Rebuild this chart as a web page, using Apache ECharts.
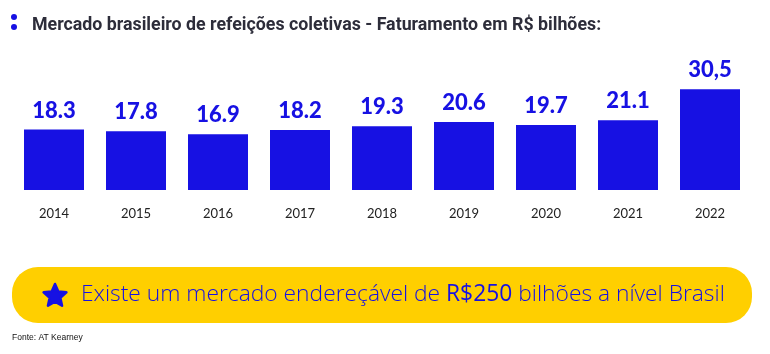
<!DOCTYPE html>
<html>
<head>
<meta charset="utf-8">
<script src="https://cdn.jsdelivr.net/npm/echarts@6/dist/echarts.min.js"></script>
<style>
  html, body { margin: 0; padding: 0; background: #fff; }
  #chart { width: 770px; height: 354px; }
</style>
</head>
<body>
<div id="chart"></div>
<script>
// faturamento em R$ bilhões
const years = ['2014', '2015', '2016', '2017', '2018', '2019', '2020', '2021', '2022']
const revenue = [18.3, 17.8, 16.9, 18.2, 19.3, 20.6, 19.7, 21.1, 30.5]
const valueLabels = ['18.3', '17.8', '16.9', '18.2', '19.3', '20.6', '19.7', '21.1', '30,5']

const BLUE = '#1711e3'
const YELLOW = '#ffcf00'

function starPoints (cx, cy, outer, inner) {
  const pts = []
  for (let i = 0; i < 10; i++) {
    const r = i % 2 === 0 ? outer : inner
    const a = -Math.PI / 2 + i * Math.PI / 5
    pts.push([cx + r * Math.cos(a), cy + r * Math.sin(a)])
  }
  return pts
}

const chart = echarts.init(document.getElementById('chart'), null, { renderer: 'canvas' })

const option = {
  animation: false,
  title: {
    text: 'Mercado brasileiro de refeições coletivas - Faturamento em R$ bilhões:',
    left: 27,
    top: 12,
    textStyle: {
      fontFamily: 'Roboto',
      fontWeight: 'bold',
      fontSize: 17.8,
      color: '#2d2d3a'
    }
  },
  grid: {
    left: 13,
    right: 19,
    top: 74.5,
    bottom: 164
  },
  xAxis: {
    type: 'category',
    data: years,
    axisLine: { show: false },
    axisTick: { show: false },
    axisLabel: {
      margin: 17,
      fontFamily: 'Lato',
      fontSize: 13,
      color: '#222'
    }
  },
  yAxis: {
    type: 'value',
    min: 0,
    max: 35,
    show: false
  },
  series: [
    {
      type: 'bar',
      data: revenue,
      barWidth: 60,
      itemStyle: { color: BLUE },
      label: {
        show: true,
        position: 'top',
        distance: 8,
        fontFamily: 'Lato',
        fontWeight: 900,
        fontSize: 22,
        color: BLUE,
        formatter: (p) => valueLabels[p.dataIndex]
      }
    }
  ],
  graphic: [
    { type: 'circle', shape: { cx: 14, cy: 17, r: 3 }, style: { fill: BLUE } },
    { type: 'circle', shape: { cx: 14, cy: 27, r: 3 }, style: { fill: BLUE } },
    {
      type: 'rect',
      shape: { x: 12, y: 267, width: 740, height: 56, r: 26 },
      style: { fill: YELLOW }
    },
    {
      type: 'polygon',
      shape: { points: starPoints(55, 296, 12, 5.6) },
      style: { fill: BLUE, stroke: BLUE, lineWidth: 2.5, lineJoin: 'round' }
    },
    {
      type: 'text',
      x: 81,
      y: 295,
      style: {
        text: '{l|Existe um mercado endereçável de }{b|R$250}{l| bilhões a nível Brasil}',
        verticalAlign: 'middle',
        rich: {
          l: { fontFamily: 'Open Sans', fontWeight: 300, fontSize: 22.8, fill: BLUE },
          b: { fontFamily: 'Open Sans', fontWeight: 'normal', fontSize: 22.8, fill: BLUE }
        }
      }
    },
    {
      type: 'text',
      x: 12,
      y: 338,
      style: {
        text: 'Fonte: AT Kearney',
        verticalAlign: 'middle',
        fontFamily: 'Liberation Sans',
        fontSize: 8.5,
        fill: '#111'
      }
    }
  ]
}

chart.setOption(option)
</script>
</body>
</html>
